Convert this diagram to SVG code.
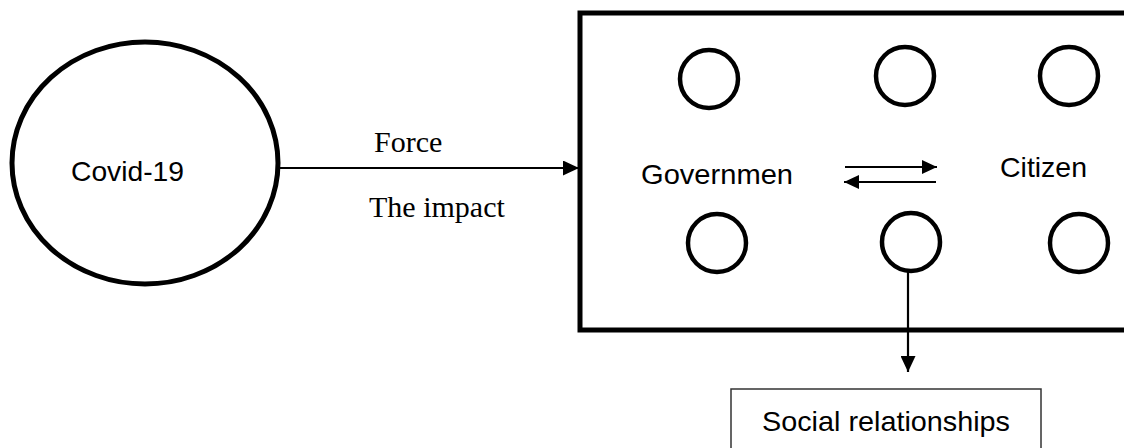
<svg xmlns="http://www.w3.org/2000/svg" width="1124" height="448" viewBox="0 0 1124 448">
  <style>
    .sans { font-family: "Liberation Sans", Arial, sans-serif; font-size: 28px; fill: #000; }
    .serif { font-family: "Liberation Serif", "Times New Roman", serif; font-size: 30px; fill: #000; }
    .small { fill: #fff; stroke: #000; stroke-width: 4.5; }
    .conn { stroke: #000; stroke-width: 2.2; fill: none; }
  </style>
  <defs>
    <marker id="ah" markerUnits="userSpaceOnUse" markerWidth="17" markerHeight="15" refX="16" refY="7.5" orient="auto">
      <path d="M0,0 L16,7.5 L0,15 Z" fill="#000"/>
    </marker>
    <marker id="ahs" markerUnits="userSpaceOnUse" markerWidth="16" markerHeight="14" refX="15" refY="7" orient="auto">
      <path d="M0,0 L15,7 L0,14 Z" fill="#000"/>
    </marker>
  </defs>
  <rect width="1124" height="448" fill="#fff"/>

  <g id="covid">
    <ellipse cx="145" cy="163" rx="133" ry="121" fill="#fff" stroke="#000" stroke-width="5"/>
    <text class="sans" x="71" y="181" textLength="113" lengthAdjust="spacingAndGlyphs">Covid-19</text>
  </g>

  <g id="society">
    <rect x="580" y="13" width="560" height="317" fill="#fff" stroke="#000" stroke-width="5"/>
    <text class="sans" x="641" y="184" textLength="152" lengthAdjust="spacingAndGlyphs">Governmen</text>
    <text class="sans" x="1000" y="177" textLength="87" lengthAdjust="spacingAndGlyphs">Citizen</text>
  </g>

  <g id="c1"><circle class="small" cx="709" cy="79" r="29"/></g>
  <g id="c2"><circle class="small" cx="905" cy="76" r="29"/></g>
  <g id="c3"><circle class="small" cx="1069" cy="76" r="29"/></g>
  <g id="c4"><circle class="small" cx="717" cy="243" r="29"/></g>
  <g id="c5"><circle class="small" cx="911" cy="242" r="29"/></g>
  <g id="c6"><circle class="small" cx="1079" cy="243" r="29"/></g>

  <g id="social">
    <rect x="731" y="389" width="310" height="70" fill="#fff" stroke="#333" stroke-width="1.5"/>
    <text class="sans" x="762" y="431" textLength="248" lengthAdjust="spacingAndGlyphs">Social relationships</text>
  </g>

  <g id="connectors">
    <line class="conn" x1="280" y1="168" x2="579" y2="168" marker-end="url(#ah)"/>
    <line class="conn" x1="845" y1="167" x2="937" y2="167" marker-end="url(#ahs)"/>
    <line class="conn" x1="936" y1="182" x2="844" y2="182" marker-end="url(#ahs)"/>
    <line class="conn" x1="908" y1="271" x2="908" y2="372" marker-end="url(#ah)"/>
  </g>

  <g id="labels">
    <text class="serif" x="374" y="152">Force</text>
    <text class="serif" x="369" y="217">The impact</text>
  </g>
</svg>
